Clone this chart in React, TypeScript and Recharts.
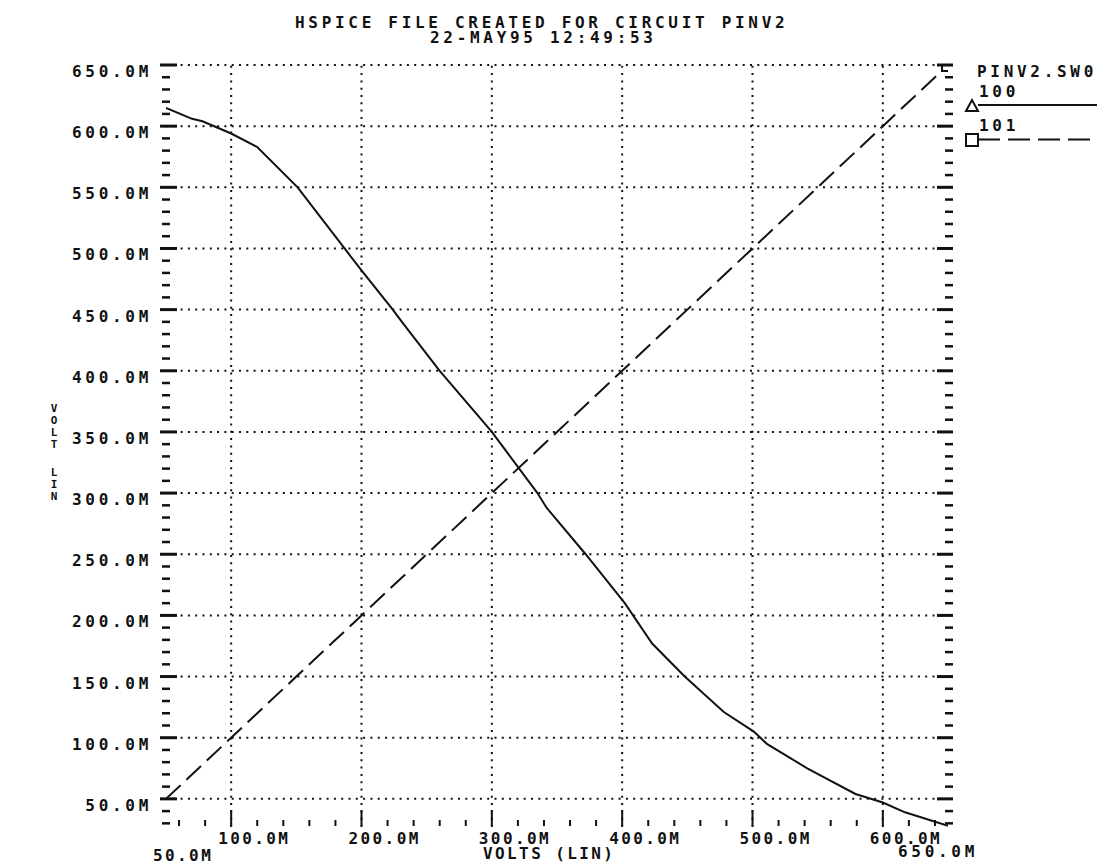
import React from 'react';
import { LineChart, Line, XAxis, YAxis, ReferenceLine, Legend } from 'recharts';

// ---- text ----
const TITLE_LINE_1 = 'HSPICE FILE CREATED FOR CIRCUIT PINV2';
const TITLE_LINE_2 = '22-MAY95 12:49:53';
const LEGEND_TITLE = 'PINV2.SW0';
const SERIES_NAMES = ['100', '101'];
const X_AXIS_TITLE = 'VOLTS (LIN)';
const Y_AXIS_TITLE = ['VOLT', 'LIN'];

// ---- data (values in mV, "M") ----
const outSweep = [50, 70, 78, 100, 120, 151, 187, 200, 224, 231, 260, 292, 300, 321, 335, 342, 372, 402, 423, 448, 478, 501, 511, 542, 579, 600, 617, 650];
const outVolts = [615, 606, 604, 594, 583, 550, 500, 482, 450, 440, 400, 360, 350, 320, 300, 288, 250, 210, 177, 150, 121, 105, 95, 75, 54, 47, 39, 28];
const inSweep = [50, 100, 150, 200, 250, 300, 350, 400, 450, 500, 550, 600, 650];
const inVolts = [50, 100, 150, 200, 250, 300, 350, 400, 450, 500, 550, 600, 650];

// ---- axes ----
const X_DOMAIN = [50, 650];
const Y_DOMAIN = [27, 650];
const xTicks = [50, 60, 80, 100, 120, 140, 160, 180, 200, 220, 240, 260, 280, 300, 320, 340, 360, 380, 400, 420, 440, 460, 480, 500, 520, 540, 560, 580, 600, 620, 640, 650];
const xMajor = [100, 200, 300, 400, 500, 600];
const yTicks = [30, 40, 50, 60, 70, 80, 90, 100, 110, 120, 130, 140, 150, 160, 170, 180, 190, 200, 210, 220, 230, 240, 250, 260, 270, 280, 290, 300, 310, 320, 330, 340, 350, 360, 370, 380, 390, 400, 410, 420, 430, 440, 450, 460, 470, 480, 490, 500, 510, 520, 530, 540, 550, 560, 570, 580, 590, 600, 610, 620, 630, 640, 650];
const yMajor = [50, 100, 150, 200, 250, 300, 350, 400, 450, 500, 550, 600, 650];

const outRows = outSweep.map((x, i) => ({ x, v: outVolts[i] }));
const inRows = inSweep.map((x, i) => ({ x, v: inVolts[i] }));

const fmt = (v: number) => `${v.toFixed(1)}M`;

const INK = '#111';
const FONT: React.CSSProperties = {
  fontFamily: '"DejaVu Sans Mono", monospace',
  fontWeight: 'bold',
  fontSize: 16,
  letterSpacing: 3.7,
};
const FONT_X: React.CSSProperties = { ...FONT, letterSpacing: 2.4 };

const XTick = (props: any) => {
  const { x, y, payload } = props;
  const v = payload.value;
  if (v === X_DOMAIN[0]) {
    return (
      <text x={x - 13} y={y + 34} fill={INK} style={FONT_X}>{fmt(v)}</text>
    );
  }
  if (v === X_DOMAIN[1]) {
    return (
      <text x={x - 50} y={y + 30} fill={INK} style={FONT}>{fmt(v)}</text>
    );
  }
  const major = xMajor.includes(v);
  return (
    <g>
      <line x1={x} x2={x} y1={y - (major ? 17 : 7)} y2={y - 1} stroke={INK} strokeWidth={2} />
      {major && (
        <text x={x - 13} y={y + 17} fill={INK} style={FONT_X}>{fmt(v)}</text>
      )}
    </g>
  );
};

const YLeftTick = (props: any) => {
  const { x, y, payload } = props;
  const v = payload.value;
  const major = yMajor.includes(v);
  return (
    <g>
      <line x1={major ? x - 6 : x - 4} x2={major ? x + 11 : x + 4} y1={y} y2={y} stroke={INK} strokeWidth={major ? 3 : 2.5} />
      {major && (
        <text x={x - 14} y={y + 12} textAnchor="end" fill={INK} style={FONT}>{fmt(v)}</text>
      )}
    </g>
  );
};

const YRightTick = (props: any) => {
  const { x, y, payload } = props;
  const v = payload.value;
  const major = yMajor.includes(v);
  return (
    <line x1={major ? x - 11 : x - 3} x2={x + 5} y1={y} y2={y} stroke={INK} strokeWidth={major ? 3 : 2.5} />
  );
};

const TriangleEnd = (props: any) => {
  const { cx, cy, index } = props;
  if (index !== outRows.length - 1) return <g key={`t${index}`} />;
  return (
    <polygon key={`t${index}`} points={`${cx + 6},${cy - 5} ${cx - 1},${cy + 8} ${cx + 13},${cy + 8}`} fill="#fff" stroke={INK} strokeWidth={2} />
  );
};

const SquareEnd = (props: any) => {
  const { cx, cy, index } = props;
  if (index !== inRows.length - 1) return <g key={`s${index}`} />;
  return <rect key={`s${index}`} x={cx - 6} y={cy - 6} width={12} height={12} fill="#fff" stroke={INK} strokeWidth={2} />;
};

const LegendBox = () => (
  <svg width={147} height={100} style={{ display: 'block' }}>
    <text x={19} y={22} fill={INK} style={FONT}>{LEGEND_TITLE}</text>
    <text x={21} y={42} fill={INK} style={FONT}>{SERIES_NAMES[0]}</text>
    <line x1={20} x2={147} y1={50} y2={50} stroke={INK} strokeWidth={2} />
    <polygon points="14,45 8,56 20,56" fill="#fff" stroke={INK} strokeWidth={2} />
    <text x={21} y={76} fill={INK} style={FONT}>{SERIES_NAMES[1]}</text>
    <line x1={20} x2={147} y1={84.5} y2={84.5} stroke={INK} strokeWidth={2} strokeDasharray="22 8" />
    <rect x={8} y={79} width={12} height={12} fill="#fff" stroke={INK} strokeWidth={2} />
  </svg>
);

const XTitle = (props: any) => {
  const { viewBox } = props;
  return (
    <text x={viewBox.x + 317} y={viewBox.y + 32} fill={INK} style={FONT_X}>{X_AXIS_TITLE}</text>
  );
};

const W = 1097;
const H = 859;

export default function App() {
  const gridDot = { stroke: INK, strokeWidth: 2, strokeDasharray: '2 5.3' };
  const yTitleStyle: React.CSSProperties = { ...FONT, fontSize: 11, letterSpacing: 0 };
  return (
    <div style={{ position: 'relative', width: W, height: H, background: '#fff' }}>
      <LineChart width={W} height={H} margin={{ top: 57, right: 0, bottom: 0, left: 0 }}>
        <XAxis
          type="number"
          dataKey="x"
          domain={X_DOMAIN}
          ticks={xTicks}
          interval={0}
          tick={<XTick />}
          tickLine={false}
          axisLine={false}
          tickSize={0}
          tickMargin={0}
          height={40}
          allowDataOverflow
          label={<XTitle />}
        />
        <YAxis
          yAxisId="left"
          type="number"
          domain={Y_DOMAIN}
          ticks={yTicks}
          interval={0}
          tick={<YLeftTick />}
          tickLine={false}
          axisLine={false}
          tickSize={0}
          tickMargin={0}
          width={158}
          allowDataOverflow
        />
        <YAxis
          yAxisId="right"
          orientation="right"
          type="number"
          domain={Y_DOMAIN}
          ticks={yTicks}
          interval={0}
          tick={<YRightTick />}
          tickLine={false}
          axisLine={false}
          tickSize={0}
          tickMargin={0}
          width={157}
          allowDataOverflow
        />
        {yMajor.map((v) => (
          <ReferenceLine key={`h${v}`} yAxisId="left" y={v} {...gridDot} />
        ))}
        {xMajor.map((v) => (
          <ReferenceLine key={`v${v}`} yAxisId="left" x={v} {...gridDot} />
        ))}
        <Line
          data={outRows}
          dataKey="v"
          yAxisId="left"
          type="linear"
          name={SERIES_NAMES[0]}
          stroke={INK}
          strokeWidth={2}
          dot={TriangleEnd}
          activeDot={false}
          isAnimationActive={false}
        />
        <Line
          data={inRows}
          dataKey="v"
          yAxisId="right"
          type="linear"
          name={SERIES_NAMES[1]}
          stroke={INK}
          strokeWidth={2}
          strokeDasharray="20 8"
          dot={SquareEnd}
          activeDot={false}
          isAnimationActive={false}
        />
        <Legend
          layout="vertical"
          verticalAlign="middle"
          align="center"
          content={<LegendBox />}
          wrapperStyle={{ position: 'absolute', left: 950, top: 47, width: 147, height: 100 }}
        />
      </LineChart>
      <svg width={W} height={H} style={{ position: 'absolute', left: 0, top: 0, pointerEvents: 'none' }}>
        <text x={287} y={20} fill={INK} style={FONT}>{TITLE_LINE_1}</text>
        <text x={422} y={35} fill={INK} style={FONT}>{TITLE_LINE_2}</text>
        {Y_AXIS_TITLE[0].split('').map((c, i) => (
          <text key={`a${i}`} x={46} y={404 + i * 12} textAnchor="middle" fill={INK} style={yTitleStyle}>{c}</text>
        ))}
        {Y_AXIS_TITLE[1].split('').map((c, i) => (
          <text key={`b${i}`} x={46} y={468 + i * 12} textAnchor="middle" fill={INK} style={yTitleStyle}>{c}</text>
        ))}
      </svg>
    </div>
  );
}
